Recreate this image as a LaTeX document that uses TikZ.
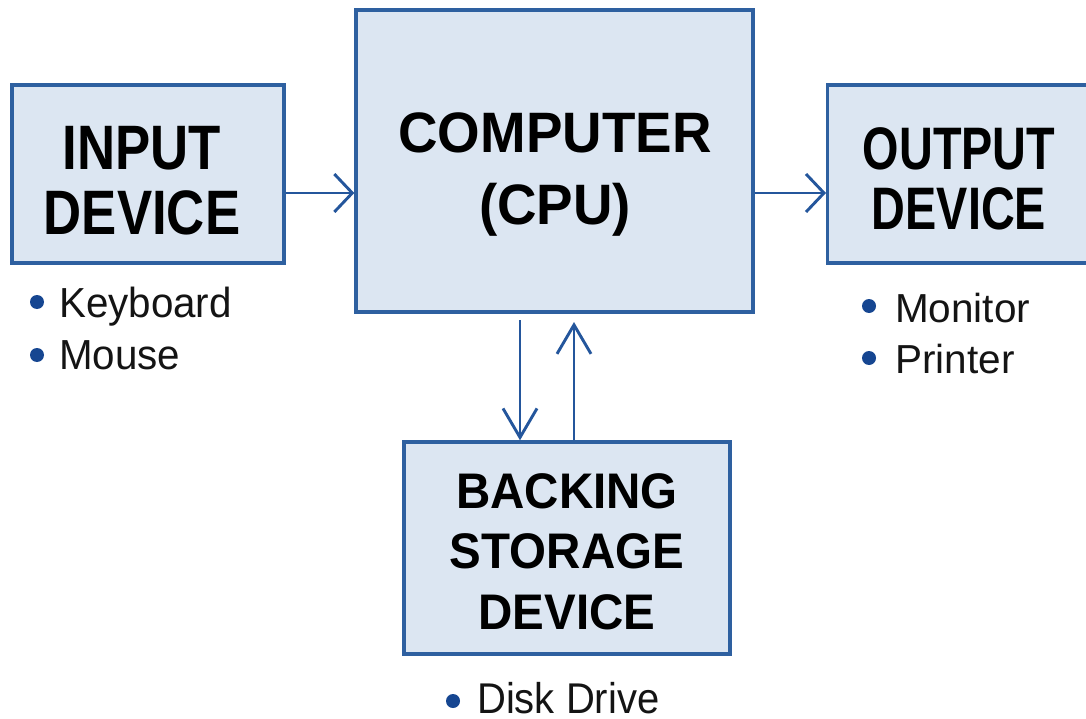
\documentclass[tikz,border=0pt]{standalone}
\usepackage{fontspec}
\setmainfont{Liberation Sans}
\usetikzlibrary{arrows.meta}
\definecolor{boxfill}{RGB}{220,230,242}
\definecolor{boxline}{RGB}{46,96,160}
\definecolor{arrline}{RGB}{36,86,156}
\definecolor{bulletc}{RGB}{22,70,145}
\definecolor{txt}{RGB}{20,20,20}
\tikzset{
  box/.style={draw=boxline, fill=boxfill, line width=3.4pt, rectangle, inner sep=0pt},
  lbl/.style={anchor=base, inner sep=0pt, text=black},
  itm/.style={anchor=base west, inner sep=0pt, text=txt},
  dot/.style={circle, fill=bulletc, inner sep=0pt, minimum size=14pt},
  harr/.style={draw=arrline, line width=2.9pt, -{Straight Barb[length=18pt,width=38pt,line width=2.9pt]}},
  varr/.style={draw=arrline, line width=2.9pt, -{Straight Barb[length=29pt,width=34pt,line width=2.9pt]}}
}
\newcommand{\bt}[3]{\scalebox{#1}[1]{\fontsize{#2}{#2}\selectfont\bfseries #3}}
\newcommand{\rt}[3]{\scalebox{#1}[1]{\fontsize{#2}{#2}\selectfont #3}}
\begin{document}
\begin{tikzpicture}[x=1pt,y=-1pt]
\useasboundingbox (0,0) rectangle (1086,719);
\fill[white] (0,0) rectangle (1086,719);
% boxes
\node[box, minimum width=272pt, minimum height=178pt] (inp) at (148,174) {};
\node[box, minimum width=397pt, minimum height=302pt] (cpu) at (554.5,161) {};
\node[box, minimum width=280pt, minimum height=178pt, anchor=west] (out) at (826,174) {};
\node[box, minimum width=326pt, minimum height=212pt] (bs) at (567,548) {};
% box texts
\node[lbl] (t1) at (142,170) {\bt{0.84}{62.8}{INPUT}};
\node[lbl] (t2) at (142,235) {\bt{0.84}{62.8}{DEVICE}};
\node[lbl] (t3) at (555,153) {\bt{0.96}{57}{COMPUTER}};
\node[lbl] (t4) at (555,225) {\bt{0.96}{57}{(CPU)}};
\node[lbl] (t5) at (959,170) {\bt{0.78}{60}{OUTPUT}};
\node[lbl] (t6) at (959,230) {\bt{0.78}{60}{DEVICE}};
\node[lbl] (t7) at (567,508) {\bt{0.95}{50}{BACKING}};
\node[lbl] (t8) at (567,568) {\bt{0.95}{50}{STORAGE}};
\node[lbl] (t9) at (567,629) {\bt{0.95}{50}{DEVICE}};
% bullet items
\node[dot] (b1) at (37,302) {};
\node[itm] (i1) at (59,317) {\rt{0.96}{42}{Keyboard}};
\node[dot] (b2) at (37,355) {};
\node[itm] (i2) at (59,369) {\rt{0.96}{42}{Mouse}};
\node[dot] (b3) at (869,306) {};
\node[itm] (i3) at (895,322) {\rt{1.0}{40.5}{Monitor}};
\node[dot] (b4) at (869,358) {};
\node[itm] (i4) at (895,373) {\rt{1.0}{40.5}{Printer}};
\node[dot] (b5) at (453,701) {};
\node[itm] (i5) at (477,713) {\rt{0.93}{43}{Disk Drive}};
% connectors
\coordinate (ay) at (0,193);
\coordinate (dn) at (520,320);
\coordinate (up) at (574,322);
\draw[harr] (inp.east |- ay) -- (cpu.west |- ay);
\draw[harr] (cpu.east |- ay) -- (out.west |- ay);
\draw[varr] (dn) -- (dn |- bs.north);
\draw[varr] (up |- bs.north) -- (up);
\end{tikzpicture}
\end{document}
